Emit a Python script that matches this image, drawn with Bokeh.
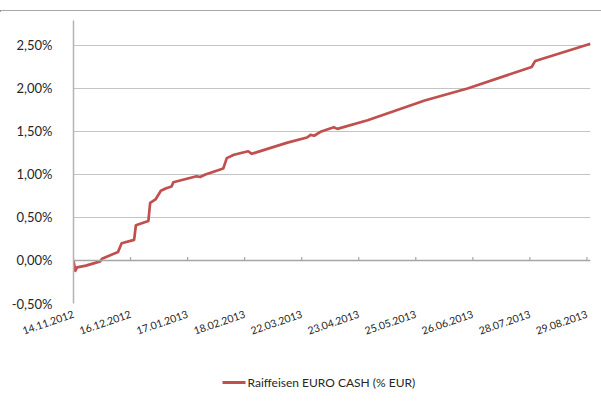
import pandas as pd
from bokeh.plotting import figure
from bokeh.models import FixedTicker, Span, Range1d, Div
from bokeh.core.properties import value
from bokeh.layouts import column
from bokeh.embed import file_html
from bokeh.resources import INLINE

# ---- data ----
dates = ["14.11.2012", "15.11.2012", "16.11.2012", "21.11.2012", "29.11.2012", "30.11.2012",
         "09.12.2012", "11.12.2012", "18.12.2012", "19.12.2012", "26.12.2012", "27.12.2012",
         "30.12.2012", "02.01.2013", "05.01.2013", "08.01.2013", "09.01.2013", "22.01.2013",
         "24.01.2013", "27.01.2013", "06.02.2013", "08.02.2013", "12.02.2013", "20.02.2013",
         "22.02.2013", "25.02.2013", "14.03.2013", "25.03.2013", "27.03.2013", "29.03.2013",
         "02.04.2013", "09.04.2013", "11.04.2013", "28.04.2013", "30.05.2013", "23.06.2013",
         "29.07.2013", "31.07.2013", "31.08.2013"]
values = [0.00, -0.12, -0.08, -0.06, -0.01, 0.02,
          0.10, 0.20, 0.24, 0.41, 0.46, 0.67,
          0.71, 0.81, 0.84, 0.86, 0.91, 0.98,
          0.97, 1.00, 1.07, 1.19, 1.23, 1.27,
          1.24, 1.26, 1.37, 1.43, 1.46, 1.45,
          1.50, 1.55, 1.53, 1.63, 1.86, 2.00,
          2.25, 2.32, 2.52]
series_name = "Raiffeisen EURO CASH (% EUR)"

x_tick_labels = ["14.11.2012", "16.12.2012", "17.01.2013", "18.02.2013", "22.03.2013",
                 "23.04.2013", "25.05.2013", "26.06.2013", "28.07.2013", "29.08.2013"]
y_ticks = [-0.5, 0.0, 0.5, 1.0, 1.5, 2.0, 2.5]
y_tick_labels = ["-0,50%", "0,00%", "0,50%", "1,00%", "1,50%", "2,00%", "2,50%"]
y_min, y_max = -0.5, 2.79

# ---- build ----
x = pd.to_datetime(dates, format="%d.%m.%Y")
xt = pd.to_datetime(x_tick_labels, format="%d.%m.%Y")
t0 = x[0]
x_days = [(d - t0).days for d in x]
xt_days = [(d - t0).days for d in xt]

FONT = "Lato"
TXT = "#262626"
RED = "#c0504d"

p = figure(width=601, height=333,
           x_range=Range1d(x_days[0], x_days[-1]), y_range=Range1d(y_min, y_max),
           output_backend="svg", toolbar_location=None,
           min_border_left=73, min_border_right=11, min_border_top=10, min_border_bottom=40)
p.outline_line_color = None

p.xgrid.visible = False
p.ygrid.ticker = FixedTicker(ticks=y_ticks)
p.ygrid.grid_line_color = "#c4c4c4"
p.ygrid.grid_line_width = 1.2

ya = p.yaxis[0]
ya.ticker = FixedTicker(ticks=y_ticks)
ya.major_label_overrides = {t: l for t, l in zip(y_ticks, y_tick_labels)}
ya.axis_line_color = "#b4b4b4"
ya.axis_line_width = 1.5
ya.major_tick_line_color = None
ya.minor_tick_line_color = None
ya.major_label_standoff = 15
ya.major_label_text_font = FONT
ya.major_label_text_font_size = "13px"
ya.major_label_text_color = TXT

xa = p.xaxis[0]
xa.ticker = FixedTicker(ticks=xt_days)
xa.major_label_overrides = {t: l for t, l in zip(xt_days, x_tick_labels)}
xa.axis_line_color = None
xa.major_tick_line_color = None
xa.minor_tick_line_color = None
xa.major_label_orientation = 0.33
xa.major_label_standoff = 4
xa.major_label_text_font = FONT
xa.major_label_text_font_size = "10.5px"
xa.major_label_text_color = TXT

# zero axis line with upward tick marks
p.add_layout(Span(location=0, dimension="width", line_color="#a6a6a6", line_width=1.5))
p.segment(x0=xt_days, y0=0, x1=xt_days, y1=0.04, line_color="#a6a6a6", line_width=1.2)

p.line(x_days, values, line_color=RED, line_width=2.7, line_join="round")

# legend strip under the chart; its frame is aligned with the main frame (73..590 px)
pl = figure(width=601, height=66, x_range=Range1d(73, 590), y_range=Range1d(0, 66),
            output_backend="svg", toolbar_location=None, min_border=0,
            x_axis_location=None, y_axis_location=None)
pl.grid.visible = False
pl.outline_line_color = None
pl.segment(x0=[222], y0=[27], x1=[245], y1=[27], line_color=RED, line_width=3)
pl.text(x=[247], y=[27], text=[series_name], text_baseline="middle", text_align="left",
        text_font=value(FONT), text_font_size="12px", text_color=TXT)

top_rule = Div(text='<div style="height:7px"></div>'
                    '<div style="height:2px;width:601px;background:#8a8a8a"></div>',
               width=601, height=10, margin=0)

layout = column(top_rule, p, pl, spacing=0)
open("out.html", "w").write(file_html(layout, INLINE))
